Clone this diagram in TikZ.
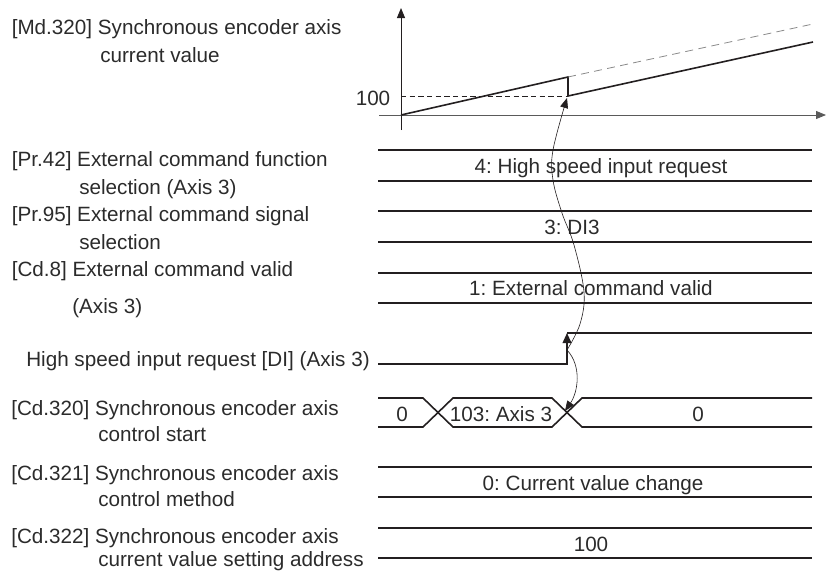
\documentclass[tikz,border=0pt]{standalone}
\usepackage{fontspec}
\setmainfont{Liberation Sans}
\usetikzlibrary{arrows.meta}
\definecolor{ink}{HTML}{231F20}
\definecolor{txt}{HTML}{2B2B2B}
\definecolor{axgray}{HTML}{5A5A5A}
\definecolor{dgray}{HTML}{8A8A8A}
\begin{document}
\frenchspacing
\begin{tikzpicture}[x=0.75pt,y=-0.75pt,
  font=\fontsize{15.5}{18}\selectfont\frenchspacing,
  lbl/.style={anchor=base west,inner sep=0pt,text=txt},
  val/.style={anchor=base,inner sep=0pt,text=txt},
  bus/.style={draw=ink,line width=1.2pt},
  graphline/.style={draw=ink,line width=1.2pt},
  axisline/.style={draw=ink,line width=0.7pt,-{Triangle[length=7.5pt,width=6pt]}},
  wave/.style={draw=ink,line width=0.45pt,-{Triangle[length=7.5pt,width=6pt]}},
  steparrow/.style={draw=ink,line width=1.2pt,-{Triangle[length=7.5pt,width=6.5pt]}}]
\useasboundingbox (0,0) rectangle (832,571);

% ---- left labels ----
\node[lbl] (md1) at (11.5,34) {[Md.320] Synchronous encoder axis};
\node[lbl] (md2) at (100,62) {current value};
\node[lbl] (pr42a) at (11.5,166) {[Pr.42] External command function};
\node[lbl] (pr42b) at (79,194) {selection (Axis 3)};
\node[lbl] (pr95a) at (11.5,221) {[Pr.95] External command signal};
\node[lbl] (pr95b) at (79,249) {selection};
\node[lbl] (cd8a) at (11.5,276) {[Cd.8] External command valid};
\node[lbl] (cd8b) at (72,313.5) {(Axis 3)};
\node[lbl] (di) at (26,366.5) {High speed input request [DI] (Axis 3)};
\node[lbl] (cd320a) at (11,415.5) {[Cd.320] Synchronous encoder axis};
\node[lbl] (cd320b) at (98,441.5) {control start};
\node[lbl] (cd321a) at (11,480.5) {[Cd.321] Synchronous encoder axis};
\node[lbl] (cd321b) at (98,506.5) {control method};
\node[lbl] (cd322a) at (11,543) {[Cd.322] Synchronous encoder axis};
\node[lbl] (cd322b) at (98,566.5) {current value setting address};

% ---- graph ----
\draw[axisline] (401,130) -- (401,8);
\draw[draw=axgray,line width=0.7pt,-{Triangle[length=7.5pt,width=6pt]}] (379,115) -- (826,115);
\draw[graphline] (401,115) -- (568,77) -- (568,96) -- (813,42);
\draw[draw=dgray,line width=0.6pt,dash pattern=on 6pt off 4pt] (568,77) -- (813,24);
\draw[draw=ink,line width=0.6pt,dash pattern=on 4pt off 2.5pt] (401,96) -- (566,96);
\node[val] (v100) at (373,105) {100};
\coordinate (gstep) at (567,98);

% ---- Pr.42 ----
\draw[bus] (378,150) -- (812,150);
\draw[bus] (378,181) -- (812,181);
\node[val] (t42) at (601,173) {4: High speed input request};
% ---- Pr.95 ----
\draw[bus] (378,211) -- (812,211);
\draw[bus] (378,242) -- (812,242);
\node[val] (t95) at (572,234.5) {3: DI3};
% ---- Cd.8 ----
\draw[bus] (378,273) -- (812,273);
\draw[bus] (378,303) -- (812,303);
\node[val] (t8) at (591,295.5) {1: External command valid};
% ---- DI ----
\draw[bus] (378,364) -- (567,364);
\draw[bus] (567,333) -- (812,333);
\draw[steparrow] (567,364.6) -- (567,333);
\coordinate (edge) at (567,350);
% ---- Cd.320 ----
\draw[bus,line join=miter] (378,398) -- (423,398) -- (453,427) -- (552,427) -- (582,398) -- (812,398);
\draw[bus,line join=miter] (378,427) -- (423,427) -- (453,398) -- (552,398) -- (582,427) -- (812,427);
\node[val] (t320a) at (402,421) {0};
\node[val] (t320b) at (501,421) {103: Axis 3};
\node[val] (t320c) at (698,421) {0};
\coordinate (cross) at (565,411);
% ---- Cd.321 ----
\draw[bus] (378,467) -- (812,467);
\draw[bus] (378,497) -- (812,497);
\node[val] (t321) at (593,490) {0: Current value change};
% ---- Cd.322 ----
\draw[bus] (378,528) -- (812,528);
\draw[bus] (378,558) -- (812,558);
\node[val] (t322) at (591,551) {100};

% ---- cause/effect connectors ----
\draw[wave] plot[smooth,tension=0.6] coordinates {(edge) (580,324) (584,292) (574,245) (562,213) (553,180) (553,150) (gstep)};
\draw[wave] (edge) .. controls (582,366) and (578,392) .. (cross);
\end{tikzpicture}
\end{document}
